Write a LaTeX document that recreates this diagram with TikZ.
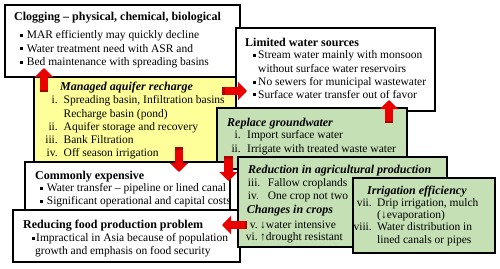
\documentclass[tikz,border=0pt]{standalone}
\usepackage{fontspec}
\setmainfont{Liberation Serif}
\usetikzlibrary{arrows.meta,shadows,calc}
\definecolor{boxyellow}{RGB}{255,255,153}
\definecolor{boxgreen}{RGB}{197,224,180}
\definecolor{arrred}{RGB}{235,0,0}
\definecolor{arrdark}{RGB}{170,0,0}
\newcommand\bul{\rule[1.6pt]{3pt}{3pt}}
\tikzset{
  panel/.style={draw=black, line width=1.2pt, inner sep=0pt, outer sep=0pt,
    anchor=north west,
    drop shadow={shadow xshift=1.3pt, shadow yshift=-1.3pt, opacity=1, fill=black}},
  wpanel/.style={panel, fill=white},
  ypanel/.style={panel, fill=boxyellow},
  gpanel/.style={panel, fill=boxgreen},
  txt/.style={inner sep=0pt, anchor=base west, font=\fontsize{11.5}{13}\selectfont},
  num/.style={txt, anchor=base east},
  ttl/.style={inner sep=0pt, anchor=base west, font=\fontsize{12}{14}\selectfont\bfseries},
  ittl/.style={inner sep=0pt, anchor=base west, font=\fontsize{12}{14}\selectfont\bfseries\itshape},
  redarrow/.style={draw=arrred, line width=8.5pt,
    -{Triangle[length=9pt,width=18pt]}},
}
\newcommand\redarr[2]{%
  \draw[redarrow] (#1) -- (#2);
  \draw[draw=arrdark, line width=8.5pt] (#1) -- ($(#1)!2.5pt!(#2)$);}
\begin{document}
\begin{tikzpicture}[x=1pt,y=-1pt]
\useasboundingbox (0,0) rectangle (500,268);

% Managed aquifer recharge (yellow)
\node[ypanel, minimum width=202pt, minimum height=92pt] (mar) at (34,70) {};
% Clogging
\node[wpanel, minimum width=235pt, minimum height=72pt] (clog) at (5,5) {};
\node[ttl] (clogT) at (14,20.7) {Clogging – physical, chemical, biological};
\node[txt] (clogB1) at (20,38.7) {\bul};
\node[txt] (clogL1) at (26.7,38.7) {MAR efficiently may quickly decline};
\node[txt] (clogB2) at (20,52) {\bul};
\node[txt] (clogL2) at (26.7,52) {Water treatment need with ASR and};
\node[txt] (clogB3) at (20,65.4) {\bul};
\node[txt] (clogL3) at (26.7,65.4) {Bed maintenance with spreading basins};

% MAR text
\node[ittl] (marT) at (60,90.7) {Managed aquifer recharge};
\node[num] (marN1) at (58,103.7) {i.};
\node[txt] (marL1) at (63.5,103.7) {Spreading basin, Infiltration basins};
\node[txt] (marL1b) at (63.5,117) {Recharge basin (pond)};
\node[num] (marN2) at (58,130.4) {ii.};
\node[txt] (marL2) at (63.5,130.4) {Aquifer storage and recovery};
\node[num] (marN3) at (58,143) {iii.};
\node[txt] (marL3) at (63.5,143) {Bank Filtration};
\node[num] (marN4) at (58,156.4) {iv.};
\node[txt] (marL4) at (63.5,156.4) {Off season irrigation};

% Arrow MAR -> Clogging
\coordinate (a1s) at (44,92);
\coordinate (a1e) at (44,68);
\redarr{a1s}{a1e}

% Limited water sources
\node[wpanel, minimum width=199pt, minimum height=83pt] (lim) at (236,28) {};
\node[ttl] (limT) at (245,46) {Limited water sources};
\node[txt] (limB1) at (252.7,58.7) {\bul};
\node[txt] (limL1) at (258,58.7) {Stream water mainly with monsoon};
\node[txt] (limL1b) at (258,72) {without surface water reservoirs};
\node[txt] (limB2) at (252.7,85.4) {\bul};
\node[txt] (limL2) at (258,85.4) {No sewers for municipal wastewater};
\node[txt] (limB3) at (252.7,98) {\bul};
\node[txt] (limL3) at (258,98) {Surface water transfer out of favor};

% Replace groundwater
\node[gpanel, minimum width=190pt, minimum height=61pt] (rep) at (217,108) {};
\node[ittl] (repT) at (227,126) {Replace groundwater};
\node[num] (repN1) at (241,138.7) {i.};
\node[txt] (repL1) at (247,138.7) {Import surface water};
\node[num] (repN2) at (241,152) {ii.};
\node[txt] (repL2) at (247,152) {Irrigate with treated waste water};

% Arrow MAR -> Limited
\coordinate (a2s) at (222,91);
\coordinate (a2e) at (247,91);
\redarr{a2s}{a2e}
% Arrow Replace -> Limited
\coordinate (a3s) at (389,123);
\coordinate (a3e) at (389,100);
\redarr{a3s}{a3e}

% Commonly expensive
\node[wpanel, minimum width=205pt, minimum height=48pt] (com) at (25,162) {};
\node[ttl] (comT) at (35,179) {Commonly expensive};
\node[txt] (comB1) at (40,191.7) {\bul};
\node[txt] (comL1) at (46.7,191.7) {Water transfer – pipeline or lined canal};
\node[txt] (comB2) at (40,204.7) {\bul};
\node[txt] (comL2) at (46.7,204.7) {Significant operational and capital costs};

% Arrows down to Commonly expensive
\coordinate (a4s) at (179,147);
\coordinate (a4e) at (179,172);
\redarr{a4s}{a4e}
\coordinate (a5s) at (228.5,156);
\coordinate (a5e) at (228.5,181);
\redarr{a5s}{a5e}

% Reducing food production problem
\node[wpanel, minimum width=227pt, minimum height=52pt] (food) at (13,210) {};
\node[ttl] (foodT) at (23,228) {Reducing food production problem};
\node[txt] (foodB1) at (31.7,241.7) {\bul};
\node[txt] (foodL1) at (36,241.7) {Impractical in Asia because of population};
\node[txt] (foodL1b) at (35,254.7) {growth and emphasis on food security};

% Reduction in agricultural production
\node[gpanel, minimum width=209pt, minimum height=90pt] (red) at (238,157) {};
\node[ittl] (redT) at (248,173.5) {Reduction in agricultural production};
\node[txt] (redN3) at (247.7,186) {iii.};
\node[txt] (redL3) at (267.7,186) {Fallow croplands};
\node[txt] (redN4) at (247.7,199.4) {iv.};
\node[txt] (redL4) at (267.7,199.4) {One crop not two};
\node[ittl] (chT) at (246.7,213) {Changes in crops};
\node[num] (redN5) at (258,228) {v.};
\node[txt] (redL5) at (260,228) {↓water intensive};
\node[num] (redN6) at (258,240.4) {vi.};
\node[txt] (redL6) at (260,240.4) {↑drought resistant};

% Arrow Reduction -> Food
\coordinate (a6s) at (247,225);
\coordinate (a6e) at (222,225);
\redarr{a6s}{a6e}

% Irrigation efficiency
\node[gpanel, minimum width=142pt, minimum height=75pt] (irr) at (353,178) {};
\node[ittl] (irrT) at (367,194) {Irrigation efficiency};
\node[num] (irrN7) at (372,206.7) {vii.};
\node[txt] (irrL7) at (377,206.7) {Drip irrigation, mulch};
\node[txt] (irrL7b) at (377,218.7) {(↓evaporation)};
\node[num] (irrN8) at (372,230.7) {viii.};
\node[txt] (irrL8) at (377,230.7) {Water distribution in};
\node[txt] (irrL8b) at (377,243.7) {lined canals or pipes};
\end{tikzpicture}
\end{document}
